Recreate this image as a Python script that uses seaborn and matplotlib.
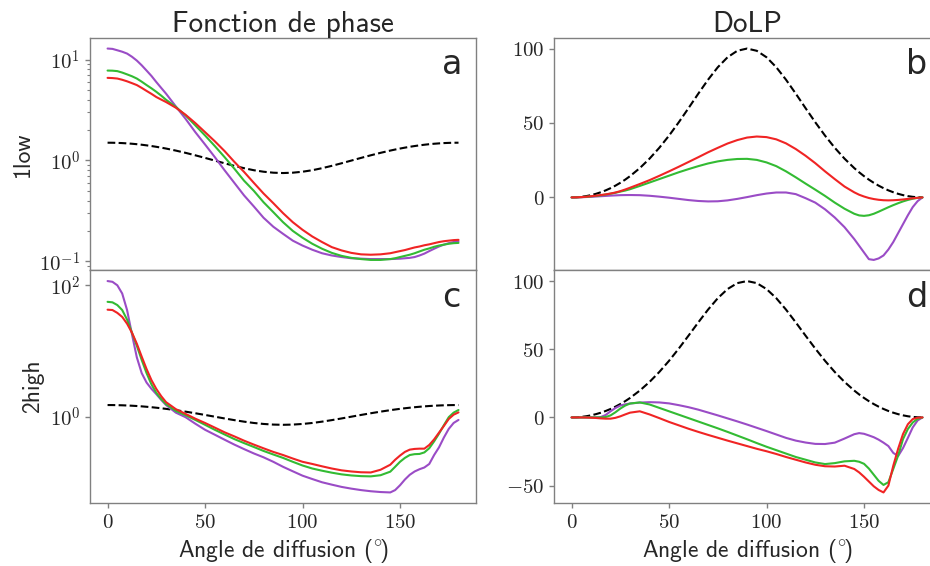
import numpy as np
import matplotlib
matplotlib.use('Agg')
import matplotlib.pyplot as plt
import matplotlib.ticker as mticker
import seaborn as sns

# Scattering angle grid (degrees)
angles = [0, 2.5, 5, 7.5, 10, 12.5, 15, 17.5, 20, 22.5, 25, 27.5, 30,
          35, 40, 45, 50, 55, 60, 65, 70, 75, 80, 85, 90,
          95, 100, 105, 110, 115, 120, 125, 130, 135, 140, 145,
          147.5, 150, 152.5, 155, 157.5, 160, 162.5, 165, 167.5, 170, 172.5, 175, 177.5, 180]

# Rayleigh reference (black dashed)
rayleigh_phase = [1.5, 1.4986, 1.494, 1.4872, 1.477, 1.4649, 1.45, 1.4322, 1.412, 1.3902, 1.366, 1.3401, 1.3125,
                  1.253, 1.19, 1.125, 1.06, 0.997, 0.9375, 0.884, 0.838, 0.8, 0.773, 0.756, 0.75,
                  0.756, 0.773, 0.8, 0.838, 0.884, 0.9375, 0.997, 1.06, 1.125, 1.19, 1.253,
                  1.2835, 1.3125, 1.3401, 1.366, 1.3902, 1.412, 1.4322, 1.45, 1.4649, 1.477, 1.4872, 1.494, 1.4986, 1.5]
rayleigh_dolp = [0, 0.095, 0.38, 0.86, 1.53, 2.40, 3.47, 4.73, 6.21, 7.90, 9.81, 11.93, 14.29,
                 19.69, 26.04, 33.33, 41.52, 50.49, 60, 69.69, 79.05, 87.44, 94.14, 98.49, 100,
                 98.49, 94.14, 87.44, 79.05, 69.69, 60, 50.49, 41.52, 33.33, 26.04, 19.69,
                 16.87, 14.29, 11.93, 9.81, 7.90, 6.21, 4.73, 3.47, 2.40, 1.53, 0.86, 0.38, 0.095, 0]

# 1low - phase function
phase_low_purple = [12.9, 12.8, 12.4, 12.0, 11.5, 10.7, 9.8, 8.8, 7.8, 6.9, 6.0, 5.25, 4.6,
                    3.44, 2.59, 1.91, 1.44, 1.08, 0.80, 0.60, 0.45, 0.35, 0.27, 0.22, 0.187,
                    0.160, 0.143, 0.130, 0.120, 0.114, 0.110, 0.107, 0.106, 0.105, 0.105, 0.105,
                    0.1055, 0.106, 0.107, 0.108, 0.110, 0.114, 0.119, 0.126, 0.133, 0.140, 0.146, 0.151, 0.155, 0.158]
phase_low_green = [7.8, 7.78, 7.7, 7.45, 7.15, 6.85, 6.5, 6.05, 5.6, 5.2, 4.8, 4.4, 4.0,
                   3.4, 2.8, 2.23, 1.77, 1.39, 1.08, 0.83, 0.63, 0.50, 0.385, 0.307, 0.244,
                   0.20, 0.171, 0.149, 0.133, 0.121, 0.113, 0.108, 0.105, 0.103, 0.103, 0.105,
                   0.107, 0.110, 0.113, 0.116, 0.120, 0.125, 0.130, 0.134, 0.139, 0.143, 0.146, 0.149, 0.151, 0.152]
phase_low_red = [6.6, 6.57, 6.5, 6.32, 6.1, 5.85, 5.6, 5.25, 4.9, 4.58, 4.26, 4.02, 3.8,
                 3.34, 2.84, 2.35, 1.91, 1.55, 1.24, 0.97, 0.77, 0.60, 0.47, 0.377, 0.30,
                 0.244, 0.205, 0.176, 0.155, 0.138, 0.128, 0.121, 0.117, 0.116, 0.117, 0.120,
                 0.123, 0.126, 0.129, 0.133, 0.137, 0.140, 0.144, 0.147, 0.151, 0.155, 0.158, 0.160, 0.162, 0.163]

# 1low - DoLP (%)
dolp_low_purple = [0, 0.02, 0.1, 0.25, 0.4, 0.6, 0.8, 1.0, 1.2, 1.35, 1.5, 1.57, 1.6,
                   1.5, 1.1, 0.5, -0.2, -1.0, -1.8, -2.4, -2.7, -2.6, -2.0, -1.0, 0.2,
                   1.5, 2.6, 3.3, 3.3, 2.2, -0.5, -3.5, -8, -13.5, -20, -28,
                   -32.5, -37, -41.5, -42, -41, -39, -35, -30, -24, -18, -12, -6.5, -2.5, 0]
dolp_low_green = [0, 0.05, 0.2, 0.4, 0.7, 1.0, 1.4, 1.9, 2.5, 3.1, 3.9, 4.6, 5.5,
                  7.7, 10, 12.3, 14.6, 16.9, 19, 21, 22.8, 24.2, 25.2, 25.8, 25.9,
                  25.2, 23.5, 21, 17.5, 13.5, 9.3, 5.2, 1.0, -3.5, -7.6, -11,
                  -12.1, -12.4, -12.0, -11.0, -9.6, -8.1, -6.6, -5.2, -3.9, -2.7, -1.7, -0.9, -0.3, 0]
dolp_low_red = [0, 0.05, 0.2, 0.45, 0.8, 1.15, 1.6, 2.05, 2.6, 3.3, 4.2, 5.3, 6.5,
                9, 11.6, 14.5, 17.5, 20.6, 23.8, 27, 30.3, 33.3, 36.2, 38.5, 40.2,
                40.9, 40.5, 39, 36.3, 32.5, 28, 23, 17.5, 12.3, 7.3, 3.4,
                1.8, 0.6, -0.4, -1.1, -1.6, -1.9, -2.0, -1.9, -1.7, -1.4, -1.0, -0.6, -0.25, 0]

# 2high - phase function
phase_high_purple = [116, 113, 100, 75, 42, 18, 8, 4.6, 3.3, 2.65, 2.2, 1.8, 1.5,
                     1.15, 0.98, 0.78, 0.63, 0.53, 0.445, 0.375, 0.32, 0.275, 0.24, 0.205, 0.172,
                     0.147, 0.126, 0.112, 0.10, 0.092, 0.085, 0.080, 0.076, 0.073, 0.071, 0.070,
                     0.076, 0.09, 0.11, 0.13, 0.146, 0.158, 0.168, 0.19, 0.26, 0.34, 0.48, 0.65, 0.80, 0.89]
phase_high_green = [56, 55, 50, 42, 30, 19, 12, 7.3, 4.6, 3.1, 2.3, 1.85, 1.55,
                    1.22, 1.05, 0.89, 0.75, 0.63, 0.535, 0.455, 0.395, 0.345, 0.30, 0.265, 0.235,
                    0.205, 0.18, 0.162, 0.15, 0.14, 0.132, 0.127, 0.124, 0.123, 0.128, 0.145,
                    0.172, 0.205, 0.235, 0.26, 0.268, 0.27, 0.285, 0.33, 0.42, 0.55, 0.74, 0.98, 1.15, 1.26]
phase_high_red = [42.5, 42, 38, 33, 26, 19, 12.9, 8.2, 5.3, 3.6, 2.64, 2.05, 1.66,
                  1.3, 1.1, 0.93, 0.80, 0.68, 0.577, 0.50, 0.43, 0.375, 0.329, 0.29, 0.26,
                  0.23, 0.205, 0.19, 0.175, 0.162, 0.152, 0.146, 0.142, 0.141, 0.155, 0.185,
                  0.22, 0.255, 0.29, 0.314, 0.322, 0.325, 0.325, 0.37, 0.45, 0.57, 0.72, 0.92, 1.07, 1.16]

# 2high - DoLP (%)
dolp_high_purple = [0, 0, 0, 0, 0, 0, 0.3, 1.8, 4.5, 6.9, 8.7, 9.6, 10.2,
                    10.9, 11.2, 11, 10.3, 9, 7.5, 5.7, 3.6, 1.5, -0.7, -2.9, -5.2,
                    -7.6, -10, -12.5, -15, -17, -18.4, -19.4, -19.5, -18.5, -15.5, -12.3,
                    -11.5, -12, -13.2, -14.5, -16.3, -18.5, -21, -26, -28.3, -22.5, -15, -7.3, -2.2, 0]
dolp_high_green = [0, 0, 0, 0, 0, 0, 0, 0.3, 1.5, 3.8, 6.5, 8.7, 10.2,
                   11, 9.5, 7, 4.5, 2, -0.5, -3, -5.5, -8, -10.6, -13.3, -16,
                   -18.8, -21.5, -24, -26.5, -29, -31, -33, -34.2, -33.5, -32.2, -31.8,
                   -32.5, -34, -37.5, -42, -46.5, -49.5, -47.5, -37.8, -28, -15.9, -8.5, -3.7, -1, 0]
dolp_high_red = [0, 0, 0, -0.05, -0.2, -0.4, -0.7, -0.9, -0.9, -0.3, 0.8, 2.2, 3.5,
                 4.5, 2.2, -0.5, -3.3, -5.8, -8.3, -10.6, -12.8, -14.9, -17, -19, -21,
                 -23, -24.8, -26.8, -29, -31, -33, -34.7, -35.8, -36, -35.4, -37.8,
                 -40.3, -43.5, -47, -50.5, -53.2, -55, -50, -35.5, -23, -12.2, -5, -1.2, -0.2, 0]

colors = {'purple': '#9a4cc6', 'green': '#33bb33', 'red': '#f02424'}

sns.set_style('white')
plt.rcParams['font.family'] = ['cmss10', 'DejaVu Sans']
plt.rcParams['mathtext.fontset'] = 'cm'
plt.rcParams['axes.unicode_minus'] = True

fig, axes = plt.subplots(2, 2, figsize=(9.3, 5.66), dpi=100, sharex='col')
fig.subplots_adjust(left=0.0968, right=1.0108, top=0.9329, bottom=0.1113,
                    wspace=0.202, hspace=0)

panels = [
    (axes[0, 0], rayleigh_phase, [phase_low_purple, phase_low_green, phase_low_red], 'a'),
    (axes[0, 1], rayleigh_dolp, [dolp_low_purple, dolp_low_green, dolp_low_red], 'b'),
    (axes[1, 0], rayleigh_phase, [phase_high_purple, phase_high_green, phase_high_red], 'c'),
    (axes[1, 1], rayleigh_dolp, [dolp_high_purple, dolp_high_green, dolp_high_red], 'd'),
]

log_fmt = mticker.FuncFormatter(lambda v, p: f'$10^{{{int(round(np.log10(v)))}}}$')
lin_fmt = mticker.FuncFormatter(lambda v, p: f'${v:g}$')

for ax, ref, series, letter in panels:
    if ax in (axes[0, 0], axes[1, 0]):
        ax.set_yscale('log')
    sns.lineplot(x=angles, y=ref, ax=ax, color='black', linestyle='--', linewidth=1.5)
    for vals, c in zip(series, ['purple', 'green', 'red']):
        sns.lineplot(x=angles, y=vals, ax=ax, color=colors[c], linewidth=1.5)
    ax.text(0.913, 0.845, letter, transform=ax.transAxes, fontsize=24,
            family='DejaVu Sans', ha='left', va='baseline')
    for sp in ax.spines.values():
        sp.set_color('0.5')
        sp.set_linewidth(1)
    ax.tick_params(which='both', direction='out', color='0.5', labelcolor='0.15',
                   labelsize=15, left=True, bottom=True)
    ax.tick_params(which='major', length=3.5, width=1)
    ax.tick_params(which='minor', length=2, width=0.8)

for ax in axes[0, :]:
    ax.tick_params(axis='x', which='both', bottom=False)

# log axes
axes[0, 0].yaxis.set_major_formatter(log_fmt)
axes[0, 0].yaxis.set_minor_formatter(mticker.NullFormatter())
axes[1, 0].yaxis.set_major_locator(mticker.FixedLocator([1, 100]))
axes[1, 0].yaxis.set_minor_locator(mticker.NullLocator())
axes[1, 0].yaxis.set_major_formatter(log_fmt)

# linear axes
axes[0, 1].set_yticks([0, 50, 100])
axes[1, 1].set_yticks([-50, 0, 50, 100])
for ax in axes[:, 1]:
    ax.yaxis.set_major_formatter(lin_fmt)
for ax in axes[1, :]:
    ax.set_xticks([0, 50, 100, 150])
    ax.xaxis.set_major_formatter(lin_fmt)
    ax.set_xlabel('Angle de diffusion ($^{\\circ}\\!$)', fontsize=17)

axes[0, 0].set_title('Fonction de phase', fontsize=21, pad=3.5)
axes[0, 1].set_title('DoLP', fontsize=21, pad=3.5)
axes[0, 0].set_ylabel('1low', fontsize=17)
axes[1, 0].set_ylabel('2high', fontsize=17)

fig.savefig('out.png', dpi=100)
